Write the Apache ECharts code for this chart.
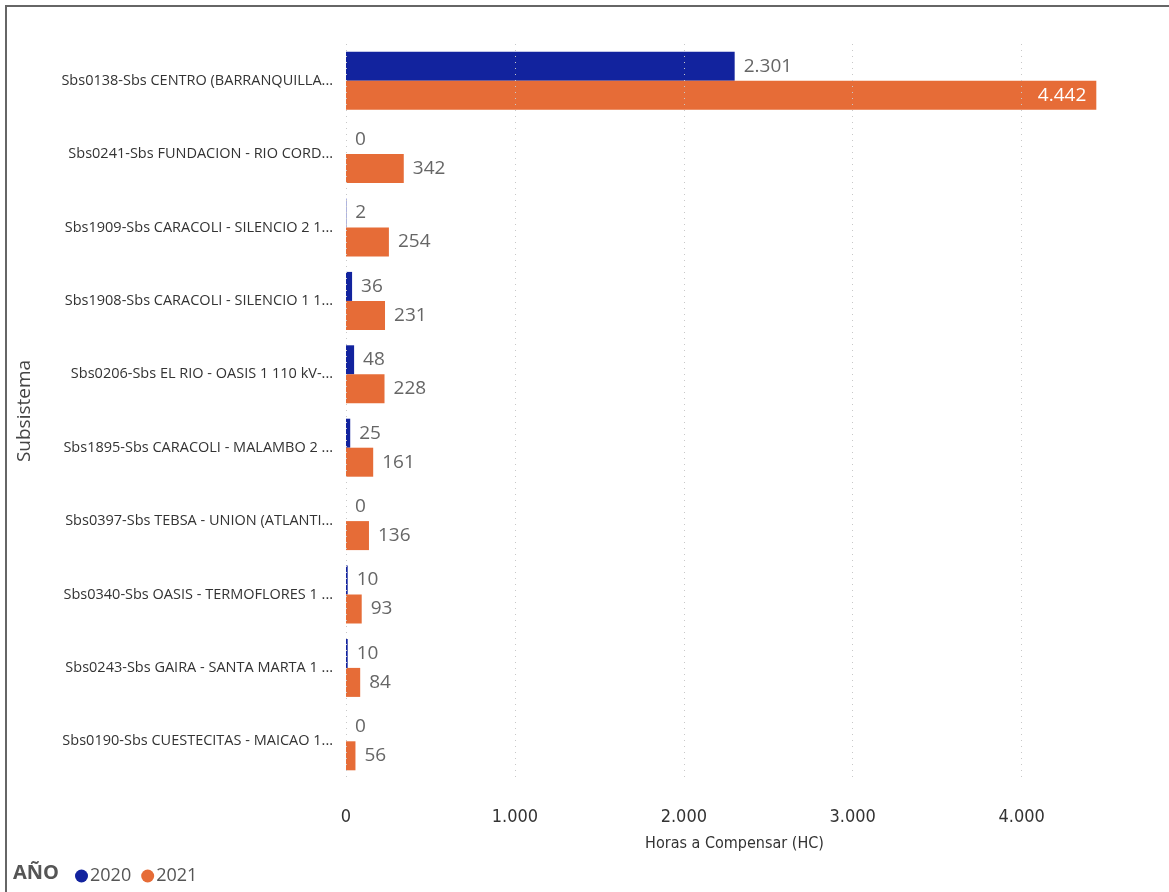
<!DOCTYPE html>
<html>
<head>
<meta charset="utf-8">
<script src="https://cdn.jsdelivr.net/npm/echarts@6/dist/echarts.min.js"></script>
<style>
  html, body { margin: 0; padding: 0; background: #fff; }
  #chart { width: 1169px; height: 892px; }
</style>
</head>
<body>
<div id="chart"></div>
<script>
// Subsystems (labels shown truncated as in the report)
const categories = [
  'Sbs0138-Sbs CENTRO (BARRANQUILLA...',
  'Sbs0241-Sbs FUNDACION - RIO CORD...',
  'Sbs1909-Sbs CARACOLI - SILENCIO 2 1...',
  'Sbs1908-Sbs CARACOLI - SILENCIO 1 1...',
  'Sbs0206-Sbs EL RIO - OASIS 1 110 kV-...',
  'Sbs1895-Sbs CARACOLI - MALAMBO 2 ...',
  'Sbs0397-Sbs TEBSA - UNION (ATLANTI...',
  'Sbs0340-Sbs OASIS - TERMOFLORES 1 ...',
  'Sbs0243-Sbs GAIRA - SANTA MARTA 1 ...',
  'Sbs0190-Sbs CUESTECITAS - MAICAO 1...'
];
const hc2020 = [2301, 0, 2, 36, 48, 25, 0, 10, 10, 0];
const hc2021 = [4442, 342, 254, 231, 228, 161, 136, 93, 84, 56];
const xTicks = [0, 1000, 2000, 3000, 4000];

const fmt = v => String(v).replace(/\B(?=(\d{3})+(?!\d))/g, '.');
const BLUE = '#12239E', ORANGE = '#E66C37';
const labelFont = '"Open Sans", "Noto Sans", sans-serif';
const narrowFont = '"Liberation Sans Narrow", "DejaVu Sans Condensed", sans-serif';

const chart = echarts.init(document.getElementById('chart'));
chart.setOption({
  animation: false,
  backgroundColor: '#fff',
  grid: { left: 346, right: 46, top: 44, bottom: 114, containLabel: false },
  legend: {
    left: 70, top: 862, icon: 'circle', itemWidth: 13, itemHeight: 13, itemGap: 10,
    textStyle: { color: '#555', fontSize: 18, fontFamily: labelFont, padding: [0, 0, 0, -3] },
    data: ['2020', '2021']
  },
  xAxis: {
    type: 'value', min: 0, max: 4600, interval: 1000,
    name: 'Horas a Compensar (HC)', nameLocation: 'middle', nameGap: 58,
    nameTextStyle: { color: '#333', fontSize: 16, fontFamily: narrowFont },
    axisLine: { show: false }, axisTick: { show: false },
    splitLine: { show: false },
    axisLabel: {
      color: '#333', fontSize: 18, margin: 30, showMaxLabel: false,
      fontFamily: narrowFont,
      formatter: v => fmt(v)
    }
  },
  yAxis: {
    type: 'category', data: categories, inverse: true,
    name: 'Subsistema', nameLocation: 'middle', nameGap: 312, nameRotate: 90,
    nameTextStyle: { color: '#444', fontSize: 19, fontFamily: labelFont },
    axisLine: { show: false }, axisTick: { show: false },
    axisLabel: { color: '#333', fontSize: 14.5, margin: 13, fontFamily: labelFont }
  },
  series: [
    {
      name: '2020', type: 'bar', data: hc2020, barWidth: 29, barGap: '0%',
      itemStyle: { color: BLUE },
      label: {
        show: true, position: 'right', distance: 9, color: '#666', fontSize: 19,
        fontFamily: labelFont, formatter: p => fmt(p.value)
      },
      markLine: {
        silent: true, symbol: 'none', label: { show: false },
        lineStyle: { color: '#c8c8c8', type: [1, 5], width: 1 },
        data: xTicks.map(t => ({ xAxis: t }))
      },
      z: 3
    },
    {
      name: '2021', type: 'bar', data: hc2021.map((v, i) => i === 0 ? {
        value: v,
        label: { position: 'insideRight', color: '#fff', distance: 10 }
      } : v),
      barWidth: 29,
      itemStyle: { color: ORANGE },
      label: {
        show: true, position: 'right', distance: 9, color: '#666', fontSize: 19,
        fontFamily: labelFont, formatter: p => fmt(p.value)
      },
      z: 3
    }
  ],
  graphic: [
    { type: 'line', shape: { x1: 5, y1: 6, x2: 1169, y2: 6 }, style: { stroke: '#666', lineWidth: 2 } },
    { type: 'line', shape: { x1: 6, y1: 5, x2: 6, y2: 892 }, style: { stroke: '#666', lineWidth: 2 } },
    { type: 'text', left: 13, top: 863, style: { text: 'AÑO', fill: '#555', font: 'bold 20px "Open Sans", "Noto Sans", sans-serif' } }
  ]
});
</script>
</body>
</html>
